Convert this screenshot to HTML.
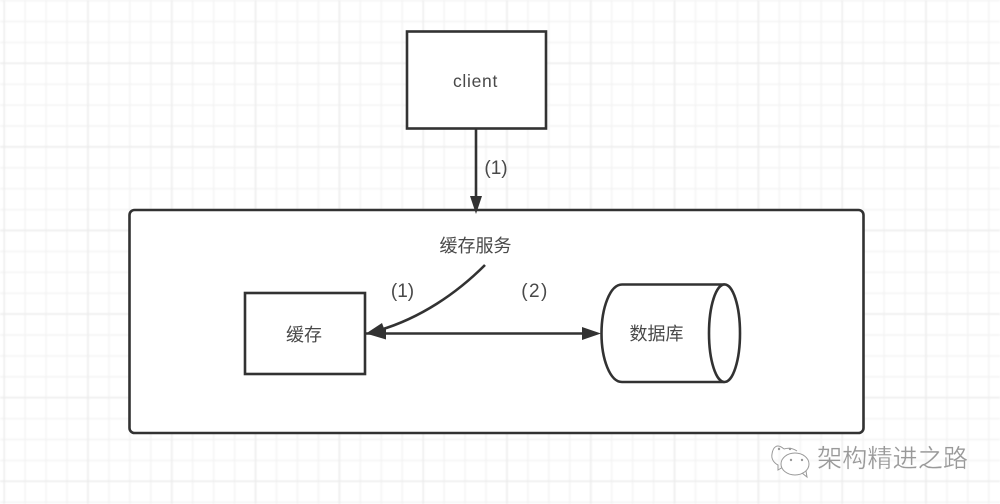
<!DOCTYPE html>
<html>
<head>
<meta charset="utf-8">
<style>
html,body{margin:0;padding:0;background:#fff}
svg{display:block}
text{font-family:"Liberation Sans","Noto Sans CJK SC",sans-serif;fill:#484848}
</style>
</head>
<body>
<svg width="1000" height="504" viewBox="0 0 1000 504" xmlns="http://www.w3.org/2000/svg">
<defs>
<pattern id="minor" width="20.95" height="20.9" patternUnits="userSpaceOnUse" x="3.5" y="0">
<path d="M0.5 0V21M0 0.5H21" stroke="#f2f2f2" stroke-width="1.5" fill="none"/>
</pattern>
<pattern id="major" width="83.8" height="83.6" patternUnits="userSpaceOnUse" x="3.5" y="62.5">
<path d="M0.5 0V84M0 0.5H84" stroke="#ebebeb" stroke-width="1.6" fill="none"/>
</pattern>
<filter id="soft" filterUnits="userSpaceOnUse" x="0" y="0" width="1000" height="504"><feGaussianBlur stdDeviation="0.7"/></filter>
<filter id="ink" filterUnits="userSpaceOnUse" x="0" y="0" width="1000" height="504"><feGaussianBlur stdDeviation="0.35"/></filter>
</defs>
<rect width="1000" height="504" fill="#fff"/>
<g filter="url(#soft)">
<rect width="1000" height="504" fill="url(#minor)"/>
<rect width="1000" height="504" fill="url(#major)"/>
</g>

<g filter="url(#ink)">
<rect x="407" y="31.5" width="139" height="97" fill="#fff" stroke="#333" stroke-width="2.6"/>
<text x="475.5" y="87" font-size="17.5" letter-spacing=".7" text-anchor="middle">client</text>

<rect x="129.5" y="210" width="734" height="223" rx="5" fill="#fff" stroke="#333" stroke-width="2.6"/>

<line x1="476" y1="128" x2="476" y2="200" stroke="#333" stroke-width="2.6"/>
<polygon points="470,196 482,196 476,214" fill="#333"/>
<text x="496" y="174" font-size="19" text-anchor="middle">(1)</text>

<text x="475.5" y="252" font-size="18" text-anchor="middle">缓存服务</text>

<rect x="245" y="293" width="120" height="81" fill="#fff" stroke="#333" stroke-width="2.6"/>
<text x="304" y="341" font-size="18" text-anchor="middle">缓存</text>

<text x="402.5" y="297" font-size="19" text-anchor="middle">(1)</text>
<text x="535" y="297" font-size="19" letter-spacing="1.4" text-anchor="middle">(2)</text>

<path d="M485 265C456 294 420 318 380 330" fill="none" stroke="#333" stroke-width="2.6"/>
<polygon points="366,333.5 382,323 386,334" fill="#333"/>
<line x1="366" y1="333.5" x2="585" y2="333.5" stroke="#333" stroke-width="2.6"/>
<polygon points="366,333.5 386,327.5 386,339.5" fill="#333"/>
<polygon points="601,333.5 582,327 582,340" fill="#333"/>

<path d="M724.5 284.5H622C610 284.5 601.5 308 601.5 333.5C601.5 359 610 382 622 382H724.5" fill="#fff" stroke="#333" stroke-width="2.6"/>
<ellipse cx="724.5" cy="333.2" rx="15.5" ry="48.8" fill="#fff" stroke="#333" stroke-width="2.6"/>
<text x="656.5" y="340" font-size="18" text-anchor="middle">数据库</text>

<g fill="none" stroke="#999" stroke-width="1">
<path d="M784 449C777 443 773 447 772 454C771 459 774 463 778 465L778 470L783 467"/>
<path d="M784 449C790 447 794 449 797 451"/>
<ellipse cx="795" cy="464" rx="14" ry="11" fill="#fff"/>
<path d="M802 473L807 477L806 471"/>
</g>
<g fill="#999"><circle cx="779" cy="449" r="1.2"/><circle cx="790" cy="449" r="1.2"/><circle cx="791" cy="460" r="1.2"/><circle cx="802" cy="460" r="1.2"/></g>
<text x="892.5" y="467" font-size="25.2" text-anchor="middle" style="fill:#999;stroke:#fff;stroke-width:.3">架构精进之路</text>
</g>
</svg>
</body>
</html>
